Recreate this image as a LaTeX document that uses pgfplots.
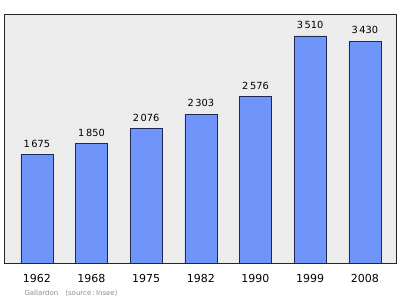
\documentclass[border=0pt]{standalone}
\usepackage{pgfplots}
\pgfplotsset{compat=1.18}
\usepackage{fontspec}
\setmainfont{DejaVu Sans}
\definecolor{barblue}{RGB}{112,149,250}
\definecolor{baredge}{RGB}{30,40,80}
\definecolor{bggray}{RGB}{236,236,236}
\begin{document}
\begin{tikzpicture}
\useasboundingbox (0,0) rectangle (400pt,299pt);
\begin{axis}[
  at={(4pt,36pt)}, anchor=south west,
  scale only axis, width=392pt, height=249pt,
  xmin=-0.6, xmax=6.57, ymin=0, ymax=3850,
  axis background/.style={fill=bggray},
  axis line style={draw=black!85, line width=0.9pt},
  ybar, bar width=32pt,
  xtick=data,
  xticklabels={1962,1968,1975,1982,1990,1999,2008},
  ytick=\empty,
  major tick length=0pt,
  xticklabel style={font=\fontsize{11}{13}\selectfont, yshift=-8pt},
  nodes near coords,
  nodes near coords style={font=\fontsize{9.8}{11}\selectfont, yshift=3.5pt,
    /pgf/number format/assume math mode=true,
    /pgf/number format/1000 sep={\,}},
]
\addplot[fill=barblue, draw=baredge, line width=0.6pt] coordinates {
  (0,1675) (1,1850) (2,2076) (3,2303) (4,2576) (5,3510) (6,3430)
};
\end{axis}
\node[anchor=west, text=black!45, font=\fontsize{7}{8}\selectfont] at (21pt,6pt) {Gallardon\quad(source\,:\,Insee)};
\end{tikzpicture}
\end{document}
